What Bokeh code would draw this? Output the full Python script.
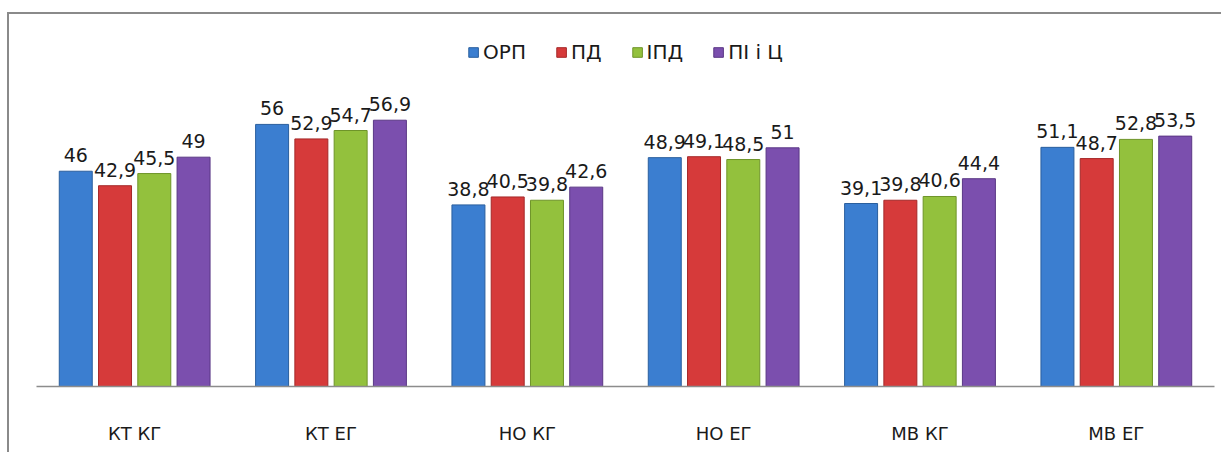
from bokeh.plotting import figure
from bokeh.models import ColumnDataSource, FactorRange, LabelSet, Legend, LegendItem
from bokeh.core.properties import value
from bokeh.transform import dodge
from bokeh.embed import file_html
from bokeh.resources import INLINE

categories = ["КТ КГ", "КТ ЕГ", "НО КГ", "НО ЕГ", "МВ КГ", "МВ ЕГ"]
series_names = ["ОРП", "ПД", "ІПД", "ПІ і Ц"]
orp = [46, 56, 38.8, 48.9, 39.1, 51.1]
pd_ = [42.9, 52.9, 40.5, 49.1, 39.8, 48.7]
ipd = [45.5, 54.7, 39.8, 48.5, 40.6, 52.8]
pic = [49, 56.9, 42.6, 51, 44.4, 53.5]
series_values = [orp, pd_, ipd, pic]

colors = ["#3b7ed0", "#d63a3a", "#93c13d", "#7b4fae"]
edges = ["#2a5f9e", "#a52828", "#6e9429", "#5a3785"]
offsets = [-0.3, -0.1, 0.1, 0.3]
FONT = "DejaVu Sans"

p = figure(x_range=FactorRange(*categories), y_range=(0, 75),
           width=1214, height=440, output_backend="svg", toolbar_location=None,
           min_border_left=27, min_border_right=9, min_border_top=21, min_border_bottom=68)
p.styles = {"border-top": "2px solid #8a8a8a", "border-left": "2px solid #8a8a8a",
            "margin-top": "12px", "margin-left": "7px"}
p.outline_line_color = None
p.xgrid.visible = False
p.ygrid.visible = False
p.yaxis.visible = False
p.xaxis.axis_line_color = "#8c8c8c"
p.xaxis.axis_line_width = 1.5
p.xaxis.major_tick_line_color = None
p.xaxis.minor_tick_line_color = None
p.xaxis.major_label_text_font = FONT
p.xaxis.major_label_text_font_size = "18px"
p.xaxis.major_label_text_color = "#1a1a1a"
p.xaxis.major_label_standoff = 30

items = []
for name, vals, c, e, off in zip(series_names, series_values, colors, edges, offsets):
    src = ColumnDataSource(dict(cat=categories, val=vals,
                                lab=[("%g" % v).replace(".", ",") for v in vals]))
    r = p.vbar(x=dodge("cat", off, range=p.x_range), top="val", width=0.168, source=src,
               fill_color=c, line_color=e, line_width=1)
    items.append(LegendItem(label=name, renderers=[r]))
    lbl = LabelSet(x=dodge("cat", off, range=p.x_range), y="val", text="lab", source=src,
                   text_align="center", text_baseline="bottom", y_offset=9,
                   text_font=value(FONT), text_font_size=value("19px"),
                   text_color=value("#1a1a1a"))
    p.add_layout(lbl)

legend = Legend(items=items, location="top_center", orientation="horizontal",
                glyph_width=12, glyph_height=12, label_text_font=FONT,
                label_text_font_size="20px", label_text_color="#1a1a1a",
                spacing=29, padding=3, margin=5, label_standoff=4,
                border_line_color=None, background_fill_alpha=0)
p.add_layout(legend)

open("out.html", "w").write(file_html(p, INLINE))
